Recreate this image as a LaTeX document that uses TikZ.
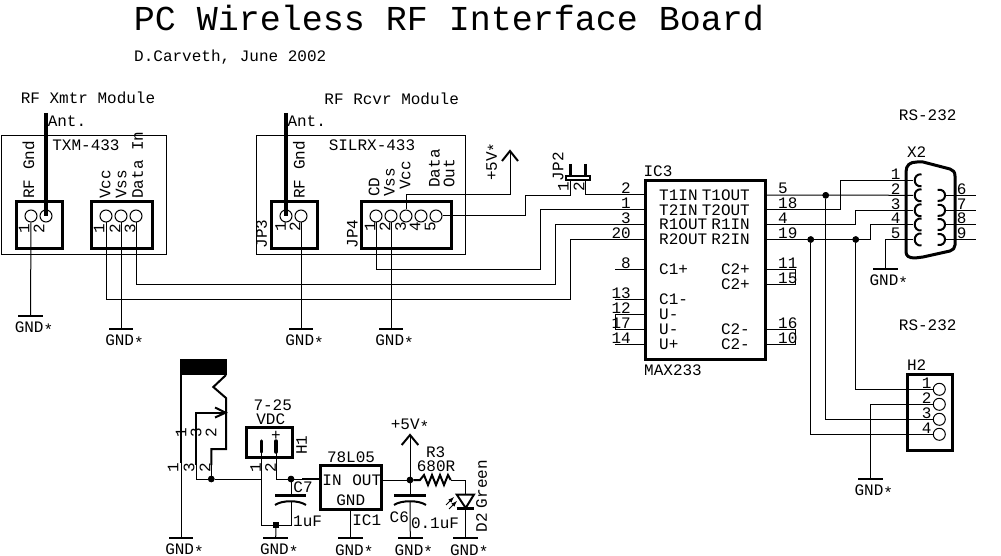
\documentclass[tikz,border=0pt]{standalone}
\usepackage{fontspec}
\setmainfont{Liberation Mono}
\newcounter{tc}
\tikzset{
 wire/.style={line width=1pt},
 heavy/.style={line width=3pt},
 med/.style={line width=2pt},
 pad/.style={circle,draw,line width=1pt,minimum size=12pt,inner sep=0pt},
 dotj/.style={circle,fill=black,minimum size=6.5pt,inner sep=0pt},
 gbar/.style={rectangle,fill=black,minimum width=24.5pt,minimum height=2pt,inner sep=0pt},
 txt/.style={inner sep=0pt,font=\fontsize{16}{16}\selectfont,text height=10.5pt,text depth=0pt},
 sml/.style={txt},
 up/.style={txt,rotate=90},
}
\newcommand{\T}[4][]{\stepcounter{tc}\node[txt,#1] (t\arabic{tc}) at (#2,#3) {#4};}
\newcommand{\gstar}{{\raisebox{-2.5pt}{*}}}
\newcommand{\gnd}[3]{\node[gbar] (#1) at (#2,#3) {};\node[txt] (#1t) at (#2+3.5,#3+11.5) {GND\gstar};}
\begin{document}
\begin{tikzpicture}[x=1pt,y=-1pt,line cap=butt,line join=miter]
\useasboundingbox (0,0) rectangle (1001,556);
% titles
\node[inner sep=0pt,font=\fontsize{35}{35}\selectfont,text height=23pt,text depth=0pt] (title) at (449,19) {PC Wireless RF Interface Board};
\T[anchor=west]{134}{56}{D.Carveth, June 2002}
\T{88}{98}{RF Xmtr Module}
\T{391.7}{99}{RF Rcvr Module}
\T{927.7}{115}{RS-232}
\T{927.7}{325}{RS-232}
% module outlines
\draw[wire] (1.5,135.7) rectangle (166.5,254);
\draw[wire] (256.7,135.7) rectangle (465,254);
\T{86}{145}{TXM-433}
\T{372}{145}{SILRX-433}
\T{67}{121}{Ant.}
\T{306.7}{121}{Ant.}
% connector bodies
\draw[heavy] (16,202) rectangle (62,248);
\draw[heavy] (91,202) rectangle (152,248);
\draw[heavy] (271,202) rectangle (317,248);
\draw[heavy] (361,202) rectangle (451,248);
% pads
\node[pad] (a1) at (31,216) {};
\node[pad] (a2) at (46,216) {};
\node[pad] (b1) at (106,216) {};
\node[pad] (b2) at (121,216) {};
\node[pad] (b3) at (136,216) {};
\node[pad] (c1) at (286,216) {};
\node[pad] (c2) at (301,216) {};
\node[pad] (d1) at (376,216) {};
\node[pad] (d2) at (391,216) {};
\node[pad] (d3) at (406,216) {};
\node[pad] (d4) at (421,216) {};
\node[pad] (d5) at (436,216) {};
% antennas
\coordinate (ant1) at (46,113);
\coordinate (ant2) at (286,113);
\draw[line width=4pt] (ant1) -- (a2.center);
\draw[line width=4pt] (ant2) -- (c1.center);
% rotated labels
\T[up,anchor=west]{29}{199}{RF Gnd}
\T[up,anchor=west]{105}{199}{Vcc}
\T[up,anchor=west]{121}{199}{Vss}
\T[up,anchor=west]{137.7}{199}{Data In}
\T[up,anchor=west]{299.3}{199}{RF Gnd}
\T[up,anchor=west]{374}{197}{CD}
\T[up,anchor=west]{389.3}{197}{Vss}
\T[up,anchor=west]{405}{190}{Vcc}
\T[up,anchor=west]{434.3}{188}{Data}
\T[up,anchor=west]{449}{188}{Out}
\T[up]{261.7}{234}{JP3}
\T[up]{352.3}{234}{JP4}
\T[up]{491.7}{161.7}{+5V\gstar}
\T[up]{558}{166.7}{JP2}
\T[up]{24}{229}{1}
\T[up]{39}{229}{2}
\T[up]{99}{229}{1}
\T[up]{115}{229}{2}
\T[up]{130}{229}{3}
\T[up]{280.7}{227}{1}
\T[up]{295}{227}{2}
\T[up]{370}{227}{1}
\T[up]{385}{227}{2}
\T[up]{400.7}{227}{3}
\T[up]{415}{227}{4}
\T[up]{430}{227}{5}
\T[up]{563.3}{187}{1}
\T[up]{579}{187}{2}
% grounds top
\gnd{g1}{30.5}{316}
\gnd{g2}{121}{329}
\gnd{g3}{301}{329}
\gnd{g4}{391}{329}
\draw[wire] (a1.south) -- (g1);
\draw[wire] (b2.south) -- (g2);
\draw[wire] (c2.south) -- (g3);
\draw[wire] (d2.south) -- (g4);
% IC3
\draw[heavy] (645.7,180.7) rectangle (765.7,359);
\T{658}{171.7}{IC3}
\T{673}{370}{MAX233}
\foreach \n/\y/\s in {a/195/T1IN,b/210/T2IN,c/224.5/R1OUT,d/239.5/R2OUT,e/269.5/C1+,f/299.5/C1-,g/314.5/U-,h/329.5/U-,i/344.5/U+}{
 \coordinate (L\n) at (645.7,\y);
 \node[txt,anchor=west] (Ln\n) at (659,\y) {\s};
}
\foreach \n/\y/\s in {a/195/T1OUT,b/210/T2OUT,c/224.5/R1IN,d/239.5/R2IN,e/269.5/C2+,f/284.5/C2+,g/329.5/C2-,h/344.5/C2-}{
 \coordinate (R\n) at (765.7,\y);
 \node[txt,anchor=east] (Rn\n) at (750,\y) {\s};
}
\foreach \y/\s in {195/2,210/1,224.5/3,239.5/20,269.5/8,299.5/13,314.5/12,329.5/17,344.5/14}{
 \node[txt,anchor=east] at (631,\y-6.5) {\s};
}
\foreach \y/\s in {195/5,210/18,224.5/4,239.5/19,269.5/11,284.5/15,329.5/16,344.5/10}{
 \node[txt,anchor=west] at (778,\y-6.5) {\s};
}
\coordinate (Lstub) at (615,0);
\draw[wire] (Le) -- (Le -| Lstub);
\draw[wire] (Lf) -- (Lf -| Lstub);
\draw[wire] (Li) -- (Li -| Lstub);
\draw[wire] (Lg) -- (Lg -| Lstub) -- (Lh -| Lstub) -- (Lh);
\coordinate (Rstub) at (795.7,0);
\draw[wire] (Re) -- (Re -| Rstub) -- (Rf -| Rstub) -- (Rf);
\draw[wire] (Rg) -- (Rg -| Rstub) -- (Rh -| Rstub) -- (Rh);
% long wires
\draw[wire] (b3.south) |- (555,284) |- (Lc);
\draw[wire] (b1.south) |- (570.7,299) |- (Ld);
\draw[wire] (d1.south) |- (540,269) |- (Lb);
% +5V arrow
\coordinate (vtip) at (510,151);
\draw[wire] (d3.north) |- (vtip |- 0,195) -- (vtip);
\draw[med] (502,161) -- (vtip) -- (518,161);
% JP2
\coordinate (jpa) at (570.7,178);
\coordinate (jpb) at (585,178);
\draw[line width=3pt] (570.7,164) -- (jpa);
\draw[line width=3pt] (585,164) -- (jpb);
\draw[line width=2pt,fill=white] (566,176) rectangle (590,180.5);
\draw[wire] (d5.east) -| (525,195.5) -| (jpa |- 0,180.5);
\draw[wire] (jpb |- 0,180.5) |- (La);
% X2
\draw[line width=3pt,line join=round] (906,172) .. controls (906,165) and (910,162) .. (917,162) -- (923,162) -- (950,169) .. controls (953,170) and (955,172) .. (955,176) -- (955,245) .. controls (955,248) and (953,250) .. (950,251) -- (923,257) -- (915,258) .. controls (909,258) and (906,256) .. (906,252) -- cycle;
\T{916.7}{152}{X2}
\foreach \n/\y in {1/180.3,2/195.3,3/210.3,4/224.5,5/239.5}{
 \coordinate (xl\n) at (913,\y);
 \draw[med] (921.5,\y-6) .. controls (912.5,\y-7) and (912.5,\y+7) .. (921.5,\y+6);
 \node[txt] at (895.7,\y-6.5) {\n};
}
\foreach \n/\y in {6/195.3,7/210.3,8/224.5,9/239.5}{
 \coordinate (xr\n) at (945,\y);
 \coordinate (xe\n) at (976,\y);
 \draw[med] (937.7,\y-5.5) .. controls (947.5,\y-7) and (947.5,\y+7) .. (937.7,\y+5.5);
 \draw[wire] (xr\n) -- (xe\n);
 \node[txt] at (961.7,\y-6.5) {\n};
}
\draw[wire] (Ra) -- (xl2);
\draw[wire] (Rb) -| (840.3,180.3) -- (xl1);
\draw[wire] (Rc) -| (855.7,210.3) -- (xl3);
\draw[wire] (Rd) -| (870.3,224.5) -- (xl4);
\gnd{g5}{885.3}{269}
\draw[wire] (xl5) -| (g5);
% H2
\draw[heavy] (907.3,374) rectangle (952.7,450);
\T{916.7}{365}{H2}
\node[pad] (h1) at (939.3,389.3) {};
\node[pad] (h2) at (939.3,404.3) {};
\node[pad] (h3) at (939.3,419.3) {};
\node[pad] (h4) at (939.3,434.3) {};
\T{926.7}{383}{1}
\T{926.7}{398}{2}
\T{926.7}{413}{3}
\T{926.7}{428}{4}
\node[dotj] (j1) at (825.7,195.3) {};
\node[dotj] (j2) at (810.7,239.5) {};
\node[dotj] (j3) at (855.7,239.5) {};
\draw[wire] (j3) |- (h1.west);
\draw[wire] (j1) |- (h3.west);
\draw[wire] (j2) |- (h4.west);
\gnd{g6}{870.3}{479}
\draw[wire] (h2.west) -| (g6);
% Jack
\fill (180.7,359) rectangle (226.7,375);
\node[dotj] (j4) at (211.3,479) {};
\gnd{g7}{181}{538}
\draw[med] (181,359) -- (181,463);
\draw[wire] (181,463) -- (g7);
\draw[med] (226,375) -- (213.3,387) -- (226,398) -- (226,449) -- (211.3,449) -- (211.3,465);
\draw[wire] (211.3,465) -- (j4);
\draw[med] (226,412.7) -- (196,412.7) -- (196,465);
\draw[wire] (196,465) |- (j4);
\draw[med] (215,407.5) -- (225.5,412.7) -- (215,417.5);
\T[up]{181}{433}{1}
\T[up]{196}{433}{3}
\T[up]{211}{433}{2}
\T[up]{173}{468}{1}
\T[up]{189}{468}{3}
\T[up]{205}{468}{2}
% H1
\draw[heavy] (246,427) rectangle (292,457);
\coordinate (h1a) at (261.7,452);
\coordinate (h1b) at (276,452);
\draw[line width=3.5pt,line cap=round] (261.7,441) -- (h1a);
\draw[line width=3.5pt,line cap=round] (276,441) -- (h1b);
\T{276}{435}{+}
\T{272.7}{405}{7-25}
\T{270.7}{419}{VDC}
\T[up]{301.7}{445}{H1}
\T[up]{255.7}{468}{1}
\T[up]{270.7}{468}{2}
% C7 and wiring
\node[dotj] (j5) at (291,479) {};
\node[dotj,rectangle,minimum size=5.5pt] (j6) at (276,525) {};
\gnd{g8}{275.7}{538}
\draw[wire] (j4) -- (h1a |- j4);
\draw[wire] (h1a) -- (h1a |- j6) -- (j6);
\draw[wire] (h1b) |- (j5);
\draw[line width=1.6pt] (302,479) -- (320.7,479);
\draw[wire] (j5) -- (302,479);
\draw[wire] (j5) -- (291,495);
\draw[heavy] (275,495) -- (306,495);
\draw[med] (275,505) .. controls (282,500) and (299,500) .. (306,505);
\draw[wire] (291,501) |- (j6);
\draw[wire] (j6) -- (g8);
\T{303}{487}{C7}
\T[anchor=west]{293}{521}{1uF}
% IC1
\draw[heavy] (320.7,465) rectangle (381.7,509.3);
\T{351}{457}{78L05}
\T{332}{480}{IN}
\T{366.7}{480}{OUT}
\T{350.7}{500.7}{GND}
\T{366.7}{520}{IC1}
\gnd{g9}{350.7}{538.3}
\coordinate (icg) at (350.7,509.3);
\draw[wire] (icg) -- (g9);
\node[dotj] (j7) at (410,480) {};
\draw[wire] (381.7,480) -- (j7);
\coordinate (vtip2) at (410,435);
\draw[wire] (j7) -- (vtip2);
\draw[med] (401.7,445) -- (vtip2) -- (418.3,445);
\T{410}{424.3}{+5V\gstar}
% C6
\gnd{g10}{410.3}{538.3}
\draw[wire] (j7) -- (410,495);
\draw[heavy] (394,495) -- (426,495);
\draw[med] (394,505) .. controls (401,500) and (419,500) .. (426,505);
\draw[wire] (410,501) -- (g10);
\T{399.3}{517.3}{C6}
\T{435}{523}{0.1uF}
% R3
\draw[med] (j7) -- (420,480) -- (424,475) -- (428,485) -- (432,475) -- (436,485) -- (440,475) -- (444,485) -- (448,475) -- (450.7,480);
\T{435.7}{452.7}{R3}
\T{436}{466.7}{680R}
% D2
\gnd{g11}{465.7}{538.3}
\draw[wire] (450.7,480) -| (465.7,494);
\draw[med] (456.7,494.5) -- (474,494.5) -- (465.7,508) -- cycle;
\draw[heavy] (456.7,508.5) -- (474,508.5);
\draw[wire] (465.7,508) -- (g11);
\draw[wire,-latex] (446,505) -- (454,497);
\draw[wire,-latex] (449,509) -- (457,501);
\T[up]{481.7}{484}{Green}
\T[up]{481.7}{522.7}{D2}
\foreach \j in {j1,j2,j3,j4,j5,j7}{\node[dotj] at (\j) {};}
\end{tikzpicture}
\end{document}
